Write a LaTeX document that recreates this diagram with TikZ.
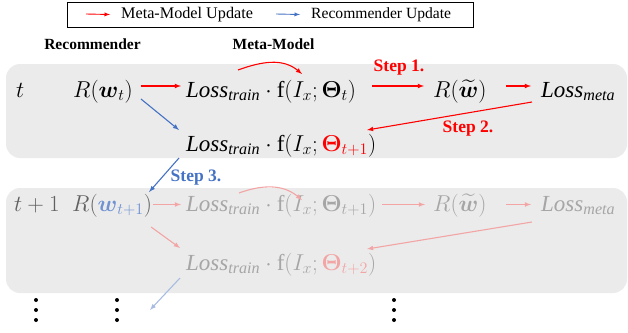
\RequirePackage{fix-cm}
\documentclass[tikz,border=0pt]{standalone}
\usepackage{amsmath,amssymb}
\usepackage{fontspec}
\setmainfont{Liberation Serif}
\usetikzlibrary{arrows}

\definecolor{mred}{RGB}{255,0,0}
\definecolor{rblue}{RGB}{68,114,196}
\definecolor{lred}{RGB}{243,165,165}
\definecolor{lblue}{RGB}{168,188,226}
\definecolor{wblue}{RGB}{112,146,210}
\definecolor{boxgray}{RGB}{235,235,235}
\definecolor{ltxt}{RGB}{166,166,166}
\definecolor{dtxt}{RGB}{96,96,96}

\tikzset{
  mn/.style={anchor=base west, inner sep=0pt, font=\fontsize{23}{27}\selectfont},
  stepl/.style={font=\fontsize{17.5}{20}\selectfont\bfseries},
  redarr/.style={-latex, color=mred, line width=1.1pt},
  bluearr/.style={-latex, color=rblue, line width=1.1pt},
  lredarr/.style={-latex, color=lred, line width=1.1pt},
  lbluearr/.style={-latex, color=lblue, line width=1.1pt},
  rowbox/.style={fill=boxgray, rounded corners=14pt},
}

\begin{document}
\begin{tikzpicture}[x=1pt, y=-1pt]
  \useasboundingbox (0,0) rectangle (628,332);

  % legend
  \node[draw, line width=0.8pt, minimum width=406pt, minimum height=25pt, anchor=north west] (leg) at (67,2) {};
  \coordinate (la) at (86,14);
  \coordinate (lb) at (276,14);
  \node[anchor=west, inner sep=0pt, font=\fontsize{16.2}{19}\selectfont] (legr) at (121,14.5) {Meta-Model Update};
  \node[anchor=west, inner sep=0pt, font=\fontsize{15.6}{19}\selectfont] (legb) at (311,14.5) {Recommender Update};
  \draw[redarr, line width=0.9pt] (la) -- (legr.west -| 110,0);
  \draw[bluearr, line width=0.9pt] (lb) -- (legb.west -| 300,0);

  % headings
  \node[font=\fontsize{15.5}{18}\selectfont\bfseries] (hrec) at (92.5,44) {Recommender};
  \node[font=\fontsize{15.5}{18}\selectfont\bfseries] (hmeta) at (273.5,44) {Meta-Model};

  % row boxes
  \fill[rowbox] (6,64) rectangle (627,158);
  \fill[rowbox] (6,188) rectangle (627,293);

  % step t
  \node[mn] (t1) at (16,97) {$t$};
  \node[mn] (r1) at (73,97) {$R(\boldsymbol{w}_t)$};
  \node[mn] (l1) at (186,97) {$\mathit{Loss}_{\mathit{train}}\cdot\mathrm{f}(I_x;\boldsymbol{\Theta}_t)$};
  \node[mn] (rw1) at (433,97) {$R(\widetilde{\boldsymbol{w}})$};
  \node[mn] (lm1) at (541,97) {$\mathit{Loss}_{\mathit{meta}}$};
  \node[mn] (l2) at (186,151) {$\mathit{Loss}_{\mathit{train}}\cdot\mathrm{f}(I_x;\textcolor{mred}{\boldsymbol{\Theta}_{t+1}})$};

  % step t+1
  \node[mn, text=dtxt] (t3) at (14,211) {$t+1$};
  \node[mn, text=dtxt] (r3) at (72,211) {$R(\textcolor{wblue}{\boldsymbol{w}_{t+1}})$};
  \node[mn, text=ltxt] (l3) at (186,211) {$\mathit{Loss}_{\mathit{train}}\cdot\mathrm{f}(I_x;\boldsymbol{\Theta}_{t+1})$};
  \node[mn, text=ltxt] (rw3) at (433,211) {$R(\widetilde{\boldsymbol{w}})$};
  \node[mn, text=ltxt] (lm3) at (541,211) {$\mathit{Loss}_{\mathit{meta}}$};
  \node[mn, text=ltxt] (l4) at (186,270) {$\mathit{Loss}_{\mathit{train}}\cdot\mathrm{f}(I_x;\textcolor{lred}{\boldsymbol{\Theta}_{t+2}})$};
  \coordinate (more) at (150,310);

  % step labels
  \node[stepl, text=mred] (s1) at (399,68) {Step 1.};
  \node[stepl, text=mred] (s2) at (468,129) {Step 2.};
  \node[stepl, text=rblue] (s3) at (196,178) {Step 3.};

  % meta-model updates
  \path[redarr]
   ([yshift=11pt]r1.base east) edge[shorten <=8pt, shorten >=5pt] ([yshift=11pt]l1.base west)
   ([xshift=52pt,yshift=27pt]l1.base west) edge[out=20, in=140] ([xshift=116pt,yshift=23pt]l1.base west)
   ([yshift=11pt]l1.base east) edge[shorten <=16pt, shorten >=9pt] ([yshift=11pt]rw1.base west)
   ([yshift=11pt]rw1.base east) edge[shorten <=19pt, shorten >=10pt] ([yshift=11pt]lm1.base west)
   ([xshift=-9pt,yshift=-5pt]lm1.base west) edge ([xshift=181pt,yshift=21pt]l2.base west);
  % recommender updates
  \path[bluearr]
   ([xshift=8pt,yshift=-2pt]r1.base east) edge ([xshift=-7pt,yshift=21pt]l2.base west)
   ([xshift=-7pt,yshift=-7pt]l2.base west) edge ([xshift=-3pt,yshift=19pt]r3.base east);

  \path[lredarr]
   ([yshift=6.5pt]r3.base east) edge[shorten <=1pt, shorten >=5pt] ([yshift=6.5pt]l3.base west)
   ([xshift=53pt,yshift=18pt]l3.base west) edge[out=20, in=140] ([xshift=116pt,yshift=11pt]l3.base west)
   ([yshift=6.5pt]l3.base east) edge[shorten <=6pt, shorten >=8pt] ([yshift=6.5pt]rw3.base west)
   ([yshift=6.5pt]rw3.base east) edge[shorten <=19pt, shorten >=10pt] ([yshift=6.5pt]lm3.base west)
   ([xshift=-9pt,yshift=-11pt]lm3.base west) edge ([xshift=181pt,yshift=21pt]l4.base west)
   ([xshift=-1pt,yshift=-16pt]r3.base east) edge ([xshift=-6pt,yshift=22pt]l4.base west);
  \path[lbluearr]
   ([xshift=-6pt,yshift=-8pt]l4.base west) edge (more);

  % dots
  \foreach \x in {36,117,394}
    \foreach \y in {300,310,320}
      \fill (\x,\y) circle (2pt);
\end{tikzpicture}
\end{document}
